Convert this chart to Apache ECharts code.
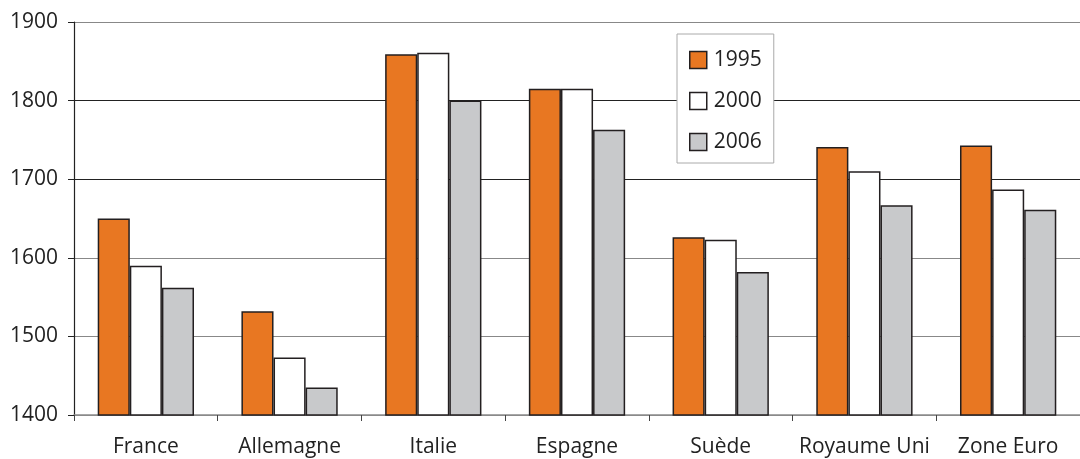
<!DOCTYPE html>
<html>
<head>
<meta charset="utf-8">
<script src="https://cdn.jsdelivr.net/npm/echarts@6/dist/echarts.min.js"></script>
<style>
  html, body { margin: 0; padding: 0; background: #fff; }
  #main { width: 1080px; height: 459px; }
</style>
</head>
<body>
<div id="main"></div>
<script>
var categories = ["France", "Allemagne", "Italie", "Espagne", "Suède", "Royaume Uni", "Zone Euro"];
var years = ["1995", "2000", "2006"];
var values1995 = [1650, 1532, 1859, 1815, 1626, 1741, 1743];
var values2000 = [1590, 1473, 1861, 1815, 1623, 1710, 1687];
var values2006 = [1562, 1435, 1800, 1763, 1582, 1667, 1661];
var yTicks = [1400, 1500, 1600, 1700, 1800, 1900];

void (function() {
  var chart = echarts.init(document.getElementById("main"));
  var fills = ["#E87722", "#FFFFFF", "#C8C9CB"];
  var data = [values1995, values2000, values2006];

  var series = years.map(function(y, i) {
    return {
      name: y,
      type: "bar",
      data: data[i],
      barGap: "0%",
      barCategoryGap: "33%",
      itemStyle: {
        color: fills[i],
        borderColor: "#231F20",
        borderWidth: 1.5
      }
    };
  });

  var option = {
    animation: false,
    textStyle: { fontFamily: "Open Sans" },
    grid: { left: 74, right: -2, top: 22, bottom: 44 },
    legend: {
      data: years,
      orient: "vertical",
      left: 677,
      top: 34,
      padding: [14, 12, 9, 12],
      itemGap: 17,
      itemWidth: 17,
      itemHeight: 17,
      icon: "rect",
      backgroundColor: "#fff",
      borderColor: "#aaa",
      borderWidth: 1,
      textStyle: { fontSize: 21, lineHeight: 24, color: "#222", padding: [0, 0, 0, 2] },
      itemStyle: { borderColor: "#231F20", borderWidth: 1.5 }
    },
    xAxis: {
      type: "category",
      data: categories,
      axisLine: { lineStyle: { color: "#8a8a8a", width: 1.5 } },
      axisTick: { show: true, interval: 0, length: 6, lineStyle: { color: "#444" } },
      axisLabel: { interval: 0, fontSize: 21, color: "#222", margin: 22 }
    },
    yAxis: {
      type: "value",
      min: yTicks[0],
      max: yTicks[yTicks.length - 1],
      interval: 100,
      axisLine: { show: true, lineStyle: { color: "#222", width: 1.2 } },
      axisTick: { show: true, length: 6, lineStyle: { color: "#222" } },
      axisLabel: {
        fontSize: 21,
        color: "#222",
        margin: 16,
        formatter: function(v) { return String(v); }
      },
      splitLine: {
        lineStyle: {
          color: ["#888", "#888", "#888", "#222", "#222", "#888"],
          width: 1.2
        }
      }
    },
    series: series
  };

  chart.setOption(option);
})();
</script>
</body>
</html>
